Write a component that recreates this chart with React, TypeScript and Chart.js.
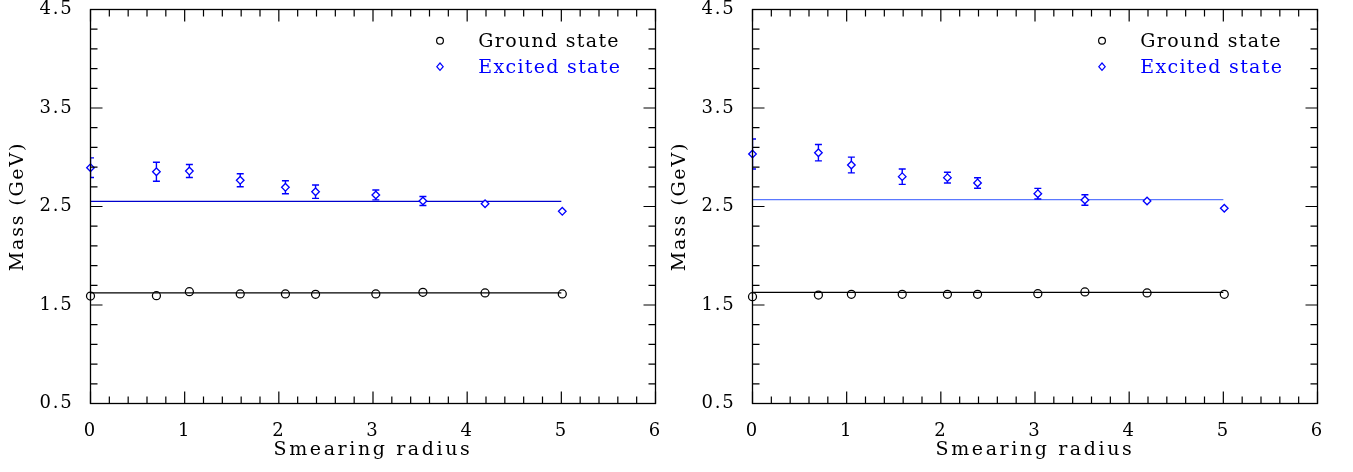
import React, { useEffect, useRef } from 'react';
import { Chart, registerables } from 'chart.js';

Chart.register(...registerables);

// ---- data ----
const smearingRadius = [0, 0.7, 1.05, 1.59, 2.07, 2.39, 3.03, 3.53, 4.19, 5.01];

const leftGroundMass = [1.591, 1.594, 1.635, 1.612, 1.612, 1.609, 1.612, 1.629, 1.622, 1.612];
const leftExcitedMass = [2.894, 2.853, 2.86, 2.766, 2.695, 2.65, 2.617, 2.556, 2.528, 2.451];
const leftExcitedError = [0.1, 0.097, 0.066, 0.066, 0.066, 0.068, 0.05, 0.046, 0, 0];
const leftGroundFit = 1.624;
const leftExcitedFit = 2.553;

const rightGroundMass = [1.584, 1.601, 1.609, 1.609, 1.609, 1.609, 1.615, 1.632, 1.622, 1.609];
const rightExcitedMass = [3.033, 3.046, 2.921, 2.803, 2.793, 2.739, 2.63, 2.566, 2.556, 2.482];
const rightExcitedError = [0.152, 0.083, 0.08, 0.078, 0.054, 0.053, 0.054, 0.054, 0, 0];
const rightGroundFit = 1.629;
const rightExcitedFit = 2.569;

const fitRange = [0, 5];

const xTickValues = [0, 1, 2, 3, 4, 5, 6];
const xTickLabels = ['0', '1', '2', '3', '4', '5', '6'];
const yTickValues = [0.5, 1.5, 2.5, 3.5, 4.5];
const yTickLabels = ['0.5', '1.5', '2.5', '3.5', '4.5'];
const xMinorStep = 0.2;
const yMinorStep = 0.2;

const legendLabels = ['Ground state', 'Excited state'];
const xAxisTitle = 'Smearing radius';
const yAxisTitle = 'Mass (GeV)';

const FONT = '"DejaVu Serif", serif';
const BLUE = '#0000ff';

const decorPlugin = {
  id: 'decor',
  beforeDraw(chart: any) {
    (chart.ctx as any).letterSpacing = '1.8px';
  },
  beforeDatasetDraw(chart: any, args: any, opts: any) {
    if (args.index !== 0) return;
    const ctx = chart.ctx;
    const ds = chart.data.datasets[0];
    const errs: number[] = opts.errors;
    const ys = chart.scales.y;
    const ca = chart.chartArea;
    ctx.save();
    ctx.beginPath();
    ctx.rect(ca.left, ca.top, ca.right - ca.left, ca.bottom - ca.top);
    ctx.clip();
    ctx.strokeStyle = ds.borderColor;
    ctx.lineWidth = 1.4;
    args.meta.data.forEach((pt: any, i: number) => {
      const e = errs[i];
      if (!e) return;
      const v = ds.data[i].y;
      const t = ys.getPixelForValue(v + e);
      const b = ys.getPixelForValue(v - e);
      const x = pt.x;
      ctx.beginPath();
      ctx.moveTo(x, t);
      ctx.lineTo(x, b);
      ctx.moveTo(x - 3.5, t);
      ctx.lineTo(x + 3.5, t);
      ctx.moveTo(x - 3.5, b);
      ctx.lineTo(x + 3.5, b);
      ctx.stroke();
    });
    ctx.restore();
  },
  afterDraw(chart: any) {
    const ctx = chart.ctx;
    const ca = chart.chartArea;
    const xs = chart.scales.x;
    const ys = chart.scales.y;
    ctx.save();
    ctx.strokeStyle = '#000';
    ctx.lineWidth = 1.3;
    ctx.strokeRect(ca.left, ca.top, ca.right - ca.left, ca.bottom - ca.top);
    ctx.lineWidth = 1.2;
    ctx.beginPath();
    const nx = Math.round((xs.max - xs.min) / xMinorStep);
    for (let i = 0; i <= nx; i++) {
      const v = xs.min + i * xMinorStep;
      const px = xs.getPixelForValue(v);
      const len = i % 5 === 0 ? 12 : 7;
      ctx.moveTo(px, ca.bottom);
      ctx.lineTo(px, ca.bottom - len);
      ctx.moveTo(px, ca.top);
      ctx.lineTo(px, ca.top + len);
    }
    const ny = Math.round((ys.max - ys.min) / yMinorStep);
    for (let i = 0; i <= ny; i++) {
      const v = ys.min + i * yMinorStep;
      const py = ys.getPixelForValue(v);
      const len = i % 5 === 0 ? 12 : 7;
      ctx.moveTo(ca.left, py);
      ctx.lineTo(ca.left + len, py);
      ctx.moveTo(ca.right, py);
      ctx.lineTo(ca.right - len, py);
    }
    ctx.stroke();

    // axis titles
    ctx.fillStyle = '#000';
    ctx.font = `19px ${FONT}`;
    (ctx as any).letterSpacing = '2.6px';
    ctx.textAlign = 'center';
    ctx.textBaseline = 'alphabetic';
    ctx.fillText(xAxisTitle, (ca.left + ca.right) / 2, 455);
    ctx.save();
    (ctx as any).letterSpacing = '1.8px';
    ctx.translate(18.5, (ca.top + ca.bottom) / 2);
    ctx.rotate(-Math.PI / 2);
    ctx.textBaseline = 'middle';
    ctx.fillText(yAxisTitle, 0, 0);
    ctx.restore();

    // legend
    (ctx as any).letterSpacing = '1.3px';
    ctx.textAlign = 'left';
    ctx.textBaseline = 'alphabetic';
    ctx.font = `19px ${FONT}`;
    ctx.strokeStyle = '#000';
    ctx.lineWidth = 1.2;
    ctx.beginPath();
    ctx.arc(440, 40.7, 3.4, 0, Math.PI * 2);
    ctx.stroke();
    ctx.fillStyle = '#000';
    ctx.fillText(legendLabels[0], 478.3, 47.3);
    ctx.strokeStyle = BLUE;
    ctx.beginPath();
    ctx.moveTo(440, 66.7 - 3.7);
    ctx.lineTo(443.2, 66.7);
    ctx.lineTo(440, 66.7 + 3.7);
    ctx.lineTo(436.8, 66.7);
    ctx.closePath();
    ctx.stroke();
    ctx.fillStyle = BLUE;
    ctx.fillText(legendLabels[1], 478.3, 73.3);
    ctx.restore();
    (ctx as any).letterSpacing = '0px';
  },
};

type PanelProps = {
  ground: number[];
  excited: number[];
  excitedError: number[];
  groundFit: number;
  excitedFit: number;
  fitColor: string;
  left: number;
};

function Panel(props: PanelProps) {
  const ref = useRef<HTMLCanvasElement | null>(null);
  useEffect(() => {
    if (!ref.current) return;
    const tickFont = { family: FONT, size: 18, lineHeight: 1 };
    const chart = new Chart(ref.current, {
      type: 'scatter',
      data: {
        datasets: [
          {
            label: legendLabels[1],
            data: smearingRadius.map((x, i) => ({ x, y: props.excited[i] })),
            pointStyle: 'rectRot',
            pointRadius: 3.8,
            borderColor: BLUE,
            backgroundColor: '#ffffff',
            pointBorderWidth: 1.3,
            clip: false,
          } as any,
          {
            label: legendLabels[0],
            data: smearingRadius.map((x, i) => ({ x, y: props.ground[i] })),
            pointStyle: 'circle',
            pointRadius: 4,
            borderColor: '#000000',
            backgroundColor: 'rgba(0,0,0,0)',
            pointBorderWidth: 1.25,
            clip: false,
          } as any,
          {
            label: 'Excited fit',
            data: fitRange.map((x) => ({ x, y: props.excitedFit })),
            showLine: true,
            borderColor: props.fitColor,
            borderWidth: 1.2,
            pointRadius: 0,
          } as any,
          {
            label: 'Ground fit',
            data: fitRange.map((x) => ({ x, y: props.groundFit })),
            showLine: true,
            borderColor: '#000000',
            borderWidth: 1.2,
            pointRadius: 0,
          } as any,
        ],
      },
      options: {
        responsive: false,
        animation: false,
        events: [],
        layout: { padding: { left: 0, right: 20.5, top: 9.5, bottom: 0 } },
        plugins: {
          legend: { display: false },
          tooltip: { enabled: false },
          decor: { errors: props.excitedError },
        } as any,
        scales: {
          x: {
            type: 'linear',
            min: 0,
            max: 6,
            afterBuildTicks: (s: any) => {
              s.ticks = xTickValues.map((v) => ({ value: v }));
            },
            afterFit: (s: any) => {
              s.height = 68.5;
              s.paddingLeft = 0;
              s.paddingRight = 0;
              s.paddingTop = 0;
              s.paddingBottom = 0;
            },
            grid: { display: false, drawTicks: false },
            border: { display: false },
            ticks: {
              font: tickFont,
              color: '#000',
              padding: 19,
              autoSkip: false,
              maxRotation: 0,
              callback: (_v: any, i: number) => xTickLabels[i],
            },
          },
          y: {
            type: 'linear',
            min: 0.5,
            max: 4.5,
            afterBuildTicks: (s: any) => {
              s.ticks = yTickValues.map((v) => ({ value: v }));
            },
            afterFit: (s: any) => {
              s.width = 90.5;
              s.paddingLeft = 0;
              s.paddingRight = 0;
              s.paddingTop = 0;
              s.paddingBottom = 0;
            },
            grid: { display: false, drawTicks: false },
            border: { display: false },
            ticks: {
              font: tickFont,
              color: '#000',
              padding: 17,
              autoSkip: false,
              callback: (_v: any, i: number) => yTickLabels[i],
            },
          },
        },
      } as any,
      plugins: [decorPlugin as any],
    });
    return () => chart.destroy();
  }, []);
  return (
    <canvas
      ref={ref}
      width={676}
      height={472}
      style={{ position: 'absolute', left: props.left, top: 0, width: 676, height: 472, display: 'block' }}
    />
  );
}

export default function App() {
  return (
    <div style={{ position: 'fixed', left: 0, top: 0, width: 1353, height: 472, background: '#ffffff' }}>
      <Panel
        ground={leftGroundMass}
        excited={leftExcitedMass}
        excitedError={leftExcitedError}
        groundFit={leftGroundFit}
        excitedFit={leftExcitedFit}
        fitColor={'#0000cc'}
        left={0}
      />
      <Panel
        ground={rightGroundMass}
        excited={rightExcitedMass}
        excitedError={rightExcitedError}
        groundFit={rightGroundFit}
        excitedFit={rightExcitedFit}
        fitColor={'#5a78ff'}
        left={662}
      />
    </div>
  );
}
